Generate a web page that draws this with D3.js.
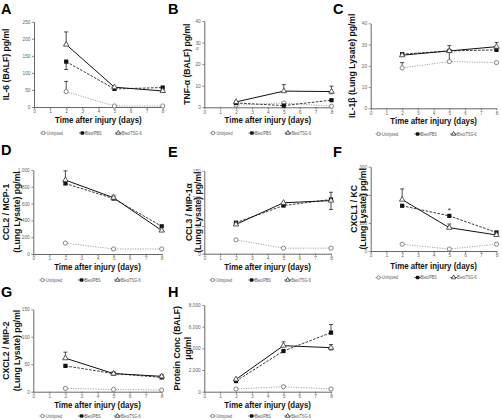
<!DOCTYPE html>
<html><head><meta charset="utf-8">
<script src="https://cdn.jsdelivr.net/npm/d3@7"></script>
<style>body{margin:0;background:#fff}svg{display:block}text{font-family:"Liberation Sans",Arial,sans-serif}</style>
</head><body><svg id="c" width="502" height="420"></svg>
<script>
// ---------- data ----------
const days = [2, 5, 8];
const seriesNames = ["Uninjured", "Bleo/PBS", "Bleo/TSG-6"];

const A_uninj = [45, 3, 3],   A_pbs = [133, 53, 57],  A_tsg = [183, 58, 47];
const A_hi = [[75,null,null],[null,null,null],[220,null,null]];
const A_lo = [[null,null,null],[110,null,null],[null,null,null]];
const A_ticks = [0, 50, 100, 150, 200, 250];

const B_uninj = [1, 2, 0.5],  B_pbs = [2, 0.8, 3.3],  B_tsg = [2.5, 7.5, 7.3];
const B_hi = [[null,null,null],[null,null,3.6],[null,10.5,9.8]];
const B_lo = [[null,null,null],[null,null,null],[null,null,6.3]];
const B_ticks = [0, 10, 20, 30, 40];

const C_uninj = [19, 22, 21.5], C_pbs = [25.5, 27, 27.5], C_tsg = [25, 27, 29];
const C_hi = [[21.5,null,null],[null,null,null],[null,29.5,31]];
const C_lo = [[null,null,null],[null,null,null],[null,22,null]];
const C_ticks = [0, 10, 20, 30, 40];

const D_uninj = [130, 60, 60], D_pbs = [840, 660, 330], D_tsg = [880, 670, 280];
const D_hi = [[null,null,null],[null,null,null],[990,700,null]];
const D_lo = [[null,null,null],[null,null,null],[null,null,null]];
const D_ticks = [0, 200, 400, 600, 800, 1000];

const E_uninj = [25, 10, 10], E_pbs = [56, 87, 98], E_tsg = [53, 92, 96];
const E_hi = [[null,null,null],[null,null,null],[null,null,111]];
const E_lo = [[null,null,null],[null,null,null],[null,null,80]];
const E_ticks = [0, 50, 100, 150];

const F_uninj = [24, 7, 24], F_pbs = [161, 125, 66], F_tsg = [183, 83, 57];
const F_hi = [[null,null,null],[null,null,null],[221,96,null]];
const F_lo = [[null,null,null],[null,null,null],[null,null,null]];
const F_ticks = [0, 100, 200, 300];

const G_uninj = [6, 4, 3], G_pbs = [47, 33, 26], G_tsg = [61, 33, 28];
const G_hi = [[null,null,null],[null,null,null],[72,null,31]];
const G_lo = [[null,null,null],[null,null,null],[null,null,null]];
const G_ticks = [0, 50, 100, 150];

const H_uninj = [250, 460, 250], H_pbs = [980, 3750, 5450], H_tsg = [1140, 4250, 4060];
const H_hi = [[null,null,null],[null,null,6200],[null,4600,4350]];
const H_lo = [[null,null,null],[null,null,null],[null,null,3850]];
const H_ticks = [0, 2000, 4000, 6000, 8000];

const xTicks = [0, 1, 2, 3, 4, 5, 6, 7, 8];

// ---------- layout ----------
const panels = [
  {L:"A", lx:1, ly:14, box:[34,162.7,21.7,107], yl:["IL-6 (BALF) pg/ml"], ylx:[9], vals:[A_uninj,A_pbs,A_tsg], hi:A_hi, lo:A_lo, ticks:A_ticks, xlab:123, leg:133},
  {L:"B", lx:168, ly:14, box:[204.3,331.5,21,107.3], yl:["TNF-\u03b1 (BALF) pg/ml"], ylx:[190], vals:[B_uninj,B_pbs,B_tsg], hi:B_hi, lo:B_lo, ticks:B_ticks, xlab:123, leg:133, alpha:true},
  {L:"C", lx:333, ly:14, box:[370.7,496.5,23.3,108.3], yl:["IL-1\u03b2 (Lung Lysate) pg/ml"], ylx:[355], vals:[C_uninj,C_pbs,C_tsg], hi:C_hi, lo:C_lo, ticks:C_ticks, xlab:124, leg:134},
  {L:"D", lx:1, ly:155, box:[33.3,161.7,170,254], yl:["CCL2 / MCP-1","(Lung Lysate) pg/ml"], ylx:[9,19.5], vals:[D_uninj,D_pbs,D_tsg], hi:D_hi, lo:D_lo, ticks:D_ticks, xlab:270.5, leg:280},
  {L:"E", lx:168, ly:157, box:[204.3,331,170.7,253.7], yl:["CCL3 / MIP-1\u03b1","(Lung Lysate) pg/ml"], ylx:[191.5,201], vals:[E_uninj,E_pbs,E_tsg], hi:E_hi, lo:E_lo, ticks:E_ticks, xlab:270.5, leg:280},
  {L:"F", lx:333, ly:157, box:[370.7,496.5,166.7,251], yl:["CXCL1 / KC","(Lung Lysate) pg/ml"], ylx:[356.5,366], vals:[F_uninj,F_pbs,F_tsg], hi:F_hi, lo:F_lo, ticks:F_ticks, xlab:269, leg:277.5, star:[5,146]},
  {L:"G", lx:1, ly:297, box:[33.3,161.7,309.3,391.7], yl:["CXCL2 / MIP-2","(Lung Lysate) pg/ml"], ylx:[9,19.5], vals:[G_uninj,G_pbs,G_tsg], hi:G_hi, lo:G_lo, ticks:G_ticks, xlab:408, leg:416},
  {L:"H", lx:168, ly:297, box:[204.3,331,305,391.7], yl:["Protein Conc (BALF)","\u03bcg/ml"], ylx:[179.5,190.5], vals:[H_uninj,H_pbs,H_tsg], hi:H_hi, lo:H_lo, ticks:H_ticks, xlab:408, leg:416}
];

const svg = d3.select("#c");
const fmt = d3.format(",");
const lineStyle = [
  {stroke:"#9a9a9a", dash:"1.2,1.3", w:0.9},
  {stroke:"#222", dash:"2.6,1.4", w:0.9},
  {stroke:"#111", dash:null, w:1.0}
];

function marker(g, k, x, y, sc) {
  sc = sc || 1;
  if (k === 0) g.append("circle").attr("cx",x).attr("cy",y).attr("r",2.1*sc).attr("fill","#fff").attr("stroke","#777").attr("stroke-width",0.9);
  else if (k === 1) g.append("rect").attr("x",x-2.1*sc).attr("y",y-2.1*sc).attr("width",4.2*sc).attr("height",4.2*sc).attr("fill","#111");
  else g.append("path").attr("transform",`translate(${x},${y})`).attr("d",d3.symbol(d3.symbolTriangle,13*sc*sc)()).attr("fill","#fff").attr("stroke","#444").attr("stroke-width",0.9);
}

panels.forEach(p => {
  const [x0,x1,yt,yb] = p.box;
  const x = d3.scaleLinear().domain([0,8]).range([x0,x1]);
  const y = d3.scaleLinear().domain([0,p.ticks[p.ticks.length-1]]).range([yb,yt]);
  const g = svg.append("g");

  g.append("text").attr("x",p.lx).attr("y",p.ly).attr("font-size",14.5).attr("font-weight","bold").text(p.L);

  const ax = g.append("g").attr("transform",`translate(0,${yb})`).call(d3.axisBottom(x).tickValues(xTicks).tickSize(2).tickPadding(1).tickSizeOuter(0));
  const ay = g.append("g").attr("transform",`translate(${x0},0)`).call(d3.axisLeft(y).tickValues(p.ticks).tickSize(2).tickPadding(1.5).tickSizeOuter(0).tickFormat(fmt));
  [ax,ay].forEach(a => {
    a.select(".domain").attr("stroke","#555").attr("stroke-width",0.9);
    a.selectAll(".tick line").attr("stroke","#555").attr("stroke-width",0.7);
    a.selectAll(".tick text").attr("font-size",4.8).attr("fill","#666").attr("font-family","Liberation Sans, Arial, sans-serif");
  });

  // y label
  const ym = (yt+yb)/2;
  p.yl.forEach((t,i) => {
    g.append("text").attr("transform",`translate(${p.ylx[i]},${ym}) rotate(-90)`).attr("text-anchor","middle")
      .attr("font-size",8.6).attr("font-weight","bold").attr("fill","#111").text(t);
  });
  if (p.alpha) g.append("text").attr("x",p.ylx[0]+6).attr("y",ym-14).attr("font-size",4.5).attr("fill","#666").text("\u03b1");

  // x label
  const xm = (x0+x1)/2;
  g.append("text").attr("x",xm).attr("y",p.xlab).attr("text-anchor","middle").attr("font-size",9.4).attr("font-weight","bold")
    .attr("fill","#111").attr("transform",`translate(${xm},0) scale(0.84,1) translate(${-xm},0)`).text("Time after injury (days)");

  // error bars
  p.vals.forEach((vals,k) => {
    vals.forEach((v,j) => {
      [p.hi[k][j], p.lo[k][j]].forEach(e => {
        if (e === null) return;
        g.append("line").attr("x1",x(days[j])).attr("x2",x(days[j])).attr("y1",y(v)).attr("y2",y(e)).attr("stroke","#222").attr("stroke-width",0.8);
        g.append("line").attr("x1",x(days[j])-2).attr("x2",x(days[j])+2).attr("y1",y(e)).attr("y2",y(e)).attr("stroke","#222").attr("stroke-width",0.8);
      });
    });
  });
  // lines
  const ln = d3.line().x((d,i)=>x(days[i])).y(d=>y(d));
  p.vals.forEach((vals,k) => {
    const s = lineStyle[k];
    g.append("path").attr("d",ln(vals)).attr("fill","none").attr("stroke",s.stroke).attr("stroke-width",s.w).attr("stroke-dasharray",s.dash);
  });
  p.vals.forEach((vals,k) => vals.forEach((v,j) => marker(g,k,x(days[j]),y(v))));

  if (p.star) g.append("text").attr("x",x(p.star[0])).attr("y",y(p.star[1])+3).attr("text-anchor","middle").attr("font-size",8).attr("fill","#222").text("*");

  // legend
  const offs = [[-55,-51.5],[-16,-13],[20,23.5]];
  offs.forEach((o,k) => {
    const cx = xm+o[0];
    const s = lineStyle[k];
    g.append("line").attr("x1",cx-3.3).attr("x2",cx+3.3).attr("y1",p.leg).attr("y2",p.leg).attr("stroke",s.stroke).attr("stroke-width",0.8);
    marker(g,k,cx,p.leg,0.8);
    const tx = xm+o[1];
    g.append("text").attr("x",tx).attr("y",p.leg+1.6).attr("font-size",4.6).attr("fill","#555")
      .attr("transform",`translate(${tx},0) scale(0.82,1) translate(${-tx},0)`).text(seriesNames[k]);
  });
});
</script></body></html>
